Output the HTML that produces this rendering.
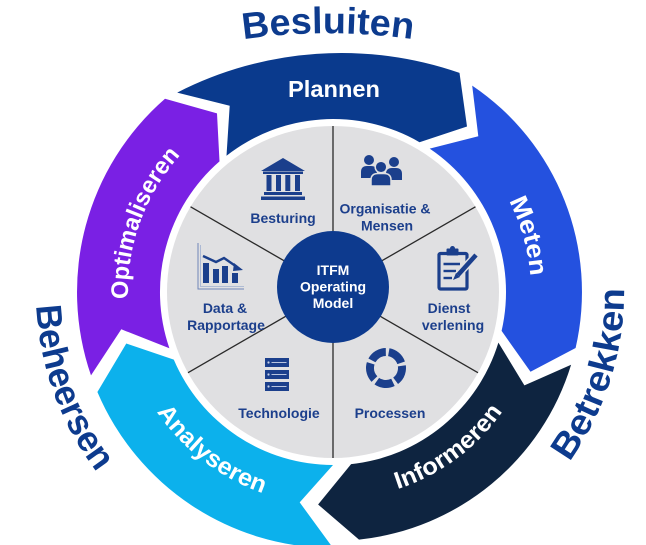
<!DOCTYPE html>
<html>
<head>
<meta charset="utf-8">
<style>
  html,body{margin:0;padding:0;background:#ffffff;}
  svg{display:block;}
  text{font-family:"Liberation Sans", Arial, sans-serif;font-weight:bold;}
</style>
</head>
<body>
<svg width="646" height="545" viewBox="0 0 646 545" xmlns="http://www.w3.org/2000/svg">
  <defs>
    <path id="pOpt" d="M 148.7 381.9 A 205 205 0 0 1 249.6 104.7"/>
    <path id="pMet" d="M 460.3 140.3 A 198 198 0 0 1 521.3 353.2"/>
    <path id="pInf" d="M 297.1 495.9 A 206 206 0 0 0 538.5 317.2"/>
    <path id="pAna" d="M 123.2 329.0 A 213 213 0 0 0 351.6 504.2"/>
    <path id="pBes" d="M 238 40 A 600 600 0 0 1 418 40"/>
    <path id="pBet" d="M 538.8 497.8 A 291 291 0 0 0 619.6 241.5"/>
    <path id="pBeh" d="M 40.5 240.4 A 297 297 0 0 0 142.1 519.5"/>
    <clipPath id="greyClip"><circle cx="333" cy="292" r="166"/></clipPath>
  </defs>

  <!-- Arrows ring -->
  <path fill="#0a3a8d" d="M 177.2 92.6 A 360 360 0 0 1 459.5 72.9 L 467 126.5 L 419.5 142.2 A 173 173 0 0 0 226.5 155.7 L 229.7 105.7 Z"/>
  <path fill="#2451df" d="M 472.2 85.6 A 249 249 0 0 1 575.6 348.0 L 530.5 371.8 L 501.6 330.9 A 173 173 0 0 0 429.7 148.6 L 478.3 136.2 Z"/>
  <path fill="#0e2440" d="M 571.1 364.8 A 249 249 0 0 1 359.0 539.6 L 318.1 504.5 L 351.1 464.1 A 173 173 0 0 0 498.4 342.6 L 524.4 385.4 Z"/>
  <path fill="#0cb1ec" d="M 333 548 A 256 256 0 0 1 97.4 392.0 L 126.3 343.5 L 173.8 359.6 A 173 173 0 0 0 333 465 L 299.7 502.4 Z"/>
  <path fill="#7a20e4" d="M 91.0 375.4 A 256 256 0 0 1 165.0 98.8 L 217 113.4 L 219.5 161.4 A 173 173 0 0 0 169.4 348.3 L 121.3 329.3 Z"/>

  <!-- Grey inner circle -->
  <circle cx="333" cy="292" r="166" fill="#e0e0e2"/>
  <g clip-path="url(#greyClip)" stroke="#2a2a2a" stroke-width="1.3">
    <line x1="333" y1="289" x2="333" y2="89"/>
    <line x1="333" y1="289" x2="506.2" y2="189"/>
    <line x1="333" y1="289" x2="506.2" y2="389"/>
    <line x1="333" y1="289" x2="333" y2="489"/>
    <line x1="333" y1="289" x2="159.8" y2="389"/>
    <line x1="333" y1="289" x2="159.8" y2="189"/>
  </g>

  <!-- Center circle -->
  <circle cx="333" cy="287" r="56" fill="#0d3a8e"/>
  <g fill="#ffffff" font-size="14" text-anchor="middle">
    <text x="333" y="275">ITFM</text>
    <text x="333" y="291.5">Operating</text>
    <text x="333" y="308">Model</text>
  </g>

  <!-- Arrow labels -->
  <g fill="#ffffff">
    <text x="334" y="97" font-size="23.5" text-anchor="middle" textLength="92" lengthAdjust="spacingAndGlyphs">Plannen</text>
    <text font-size="25"><textPath href="#pMet" startOffset="50%" text-anchor="middle" textLength="79" lengthAdjust="spacingAndGlyphs">Meten</textPath></text>
    <text font-size="24"><textPath href="#pInf" startOffset="50%" text-anchor="middle" textLength="133" lengthAdjust="spacingAndGlyphs">Informeren</textPath></text>
    <text font-size="24"><textPath href="#pAna" startOffset="50%" text-anchor="middle" textLength="136" lengthAdjust="spacingAndGlyphs">Analyseren</textPath></text>
    <text font-size="24"><textPath href="#pOpt" startOffset="50%" text-anchor="middle" textLength="157" lengthAdjust="spacingAndGlyphs">Optimaliseren</textPath></text>
  </g>

  <!-- Outer labels -->
  <g fill="#0d3b8e">
    <text font-size="37"><textPath href="#pBes" startOffset="50%" text-anchor="middle" textLength="170" lengthAdjust="spacingAndGlyphs">Besluiten</textPath></text>
    <text font-size="36"><textPath href="#pBet" startOffset="50%" text-anchor="middle" textLength="185" lengthAdjust="spacingAndGlyphs">Betrekken</textPath></text>
    <text font-size="36"><textPath href="#pBeh" startOffset="50%" text-anchor="middle" textLength="180" lengthAdjust="spacingAndGlyphs">Beheersen</textPath></text>
  </g>

  <!-- Sector labels -->
  <g fill="#1c3f8c" font-size="14" text-anchor="middle">
    <text x="283" y="223">Besturing</text>
    <text x="385" y="213.5">Organisatie &amp;</text>
    <text x="387" y="230.5">Mensen</text>
    <text x="449" y="313">Dienst</text>
    <text x="453" y="330">verlening</text>
    <text x="390" y="418">Processen</text>
    <text x="279" y="418">Technologie</text>
    <text x="225" y="313">Data &amp;</text>
    <text x="226" y="330">Rapportage</text>
  </g>

  <!-- Icons -->
  <g fill="#1b3f8c">
    <!-- Bank -->
    <polygon points="261,171 283,158 305,171"/>
    <rect x="263" y="171.5" width="40" height="2.5"/>
    <rect x="266.5" y="175" width="5" height="16"/>
    <rect x="276" y="175" width="5" height="16"/>
    <rect x="285.3" y="175" width="5" height="16"/>
    <rect x="295" y="175" width="5" height="16"/>
    <rect x="264" y="192" width="38" height="3"/>
    <rect x="261" y="196.5" width="44" height="3.5"/>

    <!-- People -->
    <circle cx="369" cy="160" r="5"/>
    <path d="M361 178 L361 172 Q361 166 367 166 L371 166 Q377 166 377 172 L377 178 Z"/>
    <circle cx="394" cy="162" r="5"/>
    <path d="M386 180 L386 174 Q386 168 392 168 L396 168 Q402 168 402 174 L402 180 Z"/>
    <circle cx="381" cy="167" r="5.8" stroke="#e0e0e2" stroke-width="1.5"/>
    <path d="M371 186 L371 180 Q371 173.5 378 173.5 L384 173.5 Q391 173.5 391 180 L391 186 Z" stroke="#e0e0e2" stroke-width="1.5"/>

    <!-- Clipboard -->
    <rect x="439" y="253.5" width="28" height="35.5" rx="1.5" fill="none" stroke="#1b3f8c" stroke-width="3.2"/>
    <rect x="446.5" y="248.5" width="12" height="7" rx="1"/>
    <circle cx="452.5" cy="248.5" r="2.5"/>
    <g stroke="#1b3f8c" stroke-width="2.4">
      <line x1="443.5" y1="264" x2="460" y2="264"/>
      <line x1="443.5" y1="271" x2="456" y2="271"/>
      <line x1="443.5" y1="278" x2="452" y2="278"/>
    </g>
    <line x1="476" y1="255" x2="458" y2="275" stroke="#e0e0e2" stroke-width="7.5"/>
    <line x1="476" y1="255" x2="458" y2="275" stroke="#1b3f8c" stroke-width="4.5"/>
    <polygon points="456,273 460,277 453,280"/>

    <!-- Cycle -->
    <circle cx="386" cy="368" r="16" fill="none" stroke="#1b3f8c" stroke-width="8" stroke-dasharray="17 3.1" transform="rotate(-80 386 368)"/>

    <!-- Server -->
    <rect x="265" y="358" width="24" height="9"/>
    <rect x="265" y="370" width="24" height="9"/>
    <rect x="265" y="382" width="24" height="9"/>
    <g fill="#c9d3ea">
      <circle cx="268.5" cy="362.5" r="1.1"/>
      <circle cx="268.5" cy="374.5" r="1.1"/>
      <circle cx="268.5" cy="386.5" r="1.1"/>
      <rect x="271.5" y="362" width="15" height="0.9"/>
      <rect x="271.5" y="374" width="15" height="0.9"/>
      <rect x="271.5" y="386" width="15" height="0.9"/>
    </g>

    <!-- Chart -->
    <polyline points="198,243 198,289 244,289" fill="none" stroke="#6f86b8" stroke-width="1"/>
    <polyline points="200.5,245 200.5,286.5 244,286.5" fill="none" stroke="#9fb0d0" stroke-width="0.8"/>
    <rect x="203" y="263" width="6" height="20"/>
    <rect x="213" y="269" width="6" height="14"/>
    <rect x="222" y="266" width="6" height="17"/>
    <rect x="232" y="273" width="6" height="10"/>
    <polyline points="203,256 216,262 224,258 237,267" fill="none" stroke="#1b3f8c" stroke-width="2.4"/>
    <polygon points="234,263 243,270 233,271"/>
  </g>
</svg>
</body>
</html>
